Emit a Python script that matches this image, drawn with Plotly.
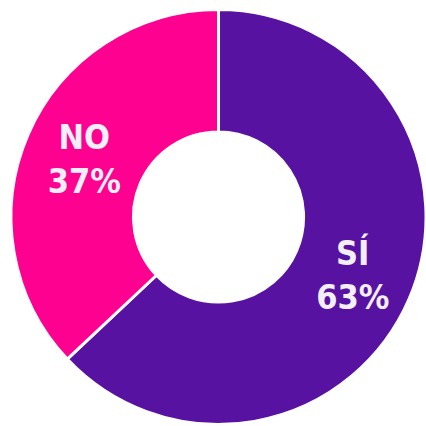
import plotly.graph_objects as go

labels = ["SÍ", "NO"]
values = [63, 37]
colors = ["#5812a2", "#fe0190"]

fig = go.Figure(go.Pie(
    labels=labels,
    values=values,
    hole=0.41,
    sort=False,
    direction="clockwise",
    rotation=0,
    marker=dict(colors=colors, line=dict(color="white", width=3)),
    texttemplate="<b>%{label}</b><br><b>%{percent:.0%}</b>",
    textposition="inside",
    insidetextorientation="horizontal",
    textfont=dict(family="DejaVu Sans Condensed, DejaVu Sans", size=34, color="#f2f0f6"),
    domain=dict(x=[11/426, 1], y=[1/426, 417/426]),
    showlegend=False,
    hoverinfo="label+percent",
))
fig.update_layout(
    width=426, height=426,
    margin=dict(l=0, r=0, t=0, b=0),
    paper_bgcolor="white",
    plot_bgcolor="white",
)
fig.write_html("out.html", config={"displayModeBar": False},
               post_script="document.body.style.margin='0';")
